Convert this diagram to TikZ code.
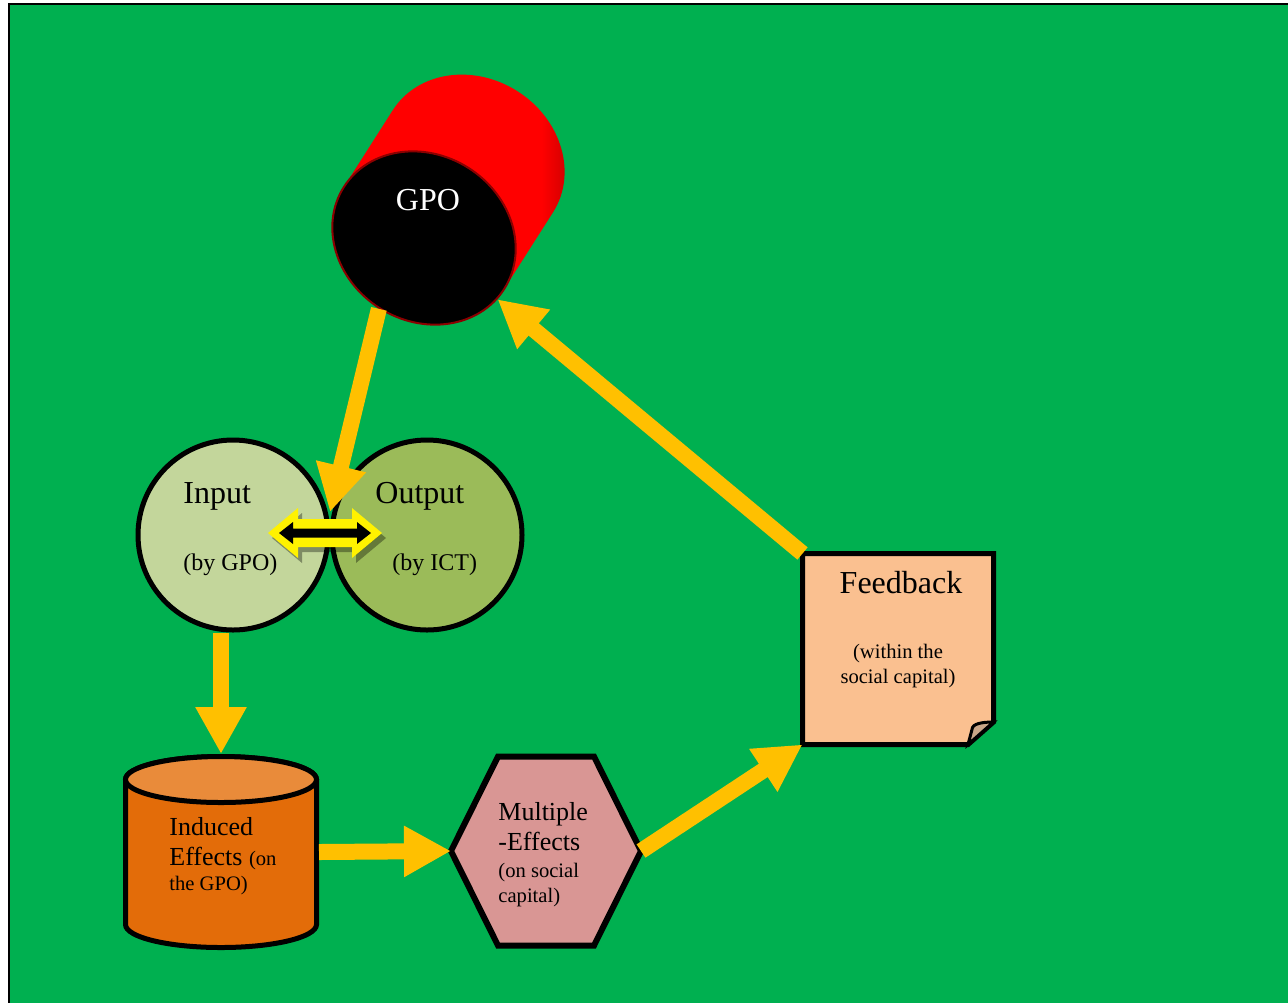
\documentclass[tikz,border=0pt]{standalone}
\usepackage{fontspec}
\setmainfont{Liberation Serif}
\usetikzlibrary{arrows.meta,shapes.geometric,calc}

\definecolor{bggreen}{HTML}{00B050}
\definecolor{gold}{HTML}{FFC000}
\definecolor{infill}{HTML}{C3D69B}
\definecolor{outfill}{HTML}{9BBB59}
\definecolor{indbody}{HTML}{E36C09}
\definecolor{indtop}{HTML}{E98B3A}
\definecolor{hexfill}{HTML}{D99694}
\definecolor{fbfill}{HTML}{FAC090}
\definecolor{rim}{HTML}{8B0000}
\pgfdeclarehorizontalshading{tube}{100bp}{color(0bp)=(red!65!black); color(25bp)=(red!65!black);
    color(33bp)=(red); color(68bp)=(red); color(75bp)=(red!75!black); color(100bp)=(red!75!black)}

\begin{document}
\begin{tikzpicture}[x=0.5pt, y=0.5pt]
        \tikzstyle{io}=[circle, draw=black, line width=2.5pt, minimum size=95pt, inner sep=0pt]
        \tikzstyle{box}=[rectangle, inner sep=0pt, outer sep=1.25pt]
        \tikzstyle{flow}=[draw=gold, line width=8pt, -{Triangle[length=23.5pt, width=24pt]}]
        \tikzstyle{title}=[font=\fontsize{16}{19}\selectfont, inner sep=0pt]
        \tikzstyle{sub}=[font=\fontsize{12}{14}\selectfont, inner sep=0pt]
        \tikzstyle{mid}=[font=\fontsize{13}{15}\selectfont, inner sep=0pt, align=left]
        \tikzstyle{note}=[font=\fontsize{10.3}{12.5}\selectfont, inner sep=0pt]

        % Frame
        \useasboundingbox (0,0) rectangle (1288,-1002);
        \clip (0,0) rectangle (1288,-1002);
        \draw[line width=1pt, fill=bggreen] (9,-4) rectangle (1310,-1020);

        % GPO cylinder (tilted)
        \coordinate (gc) at (424,-238);
        \begin{scope}[shift={(gc)}, rotate=-32.5]
            \shade[shading=tube]
                (-95,0) -- (-95,91) arc[start angle=180, end angle=0, x radius=95, y radius=83]
                -- (95,0) arc[start angle=0, end angle=-180, x radius=95, y radius=83] -- cycle;
        \end{scope}
        \node[ellipse, rotate=-32.5, minimum width=95pt, minimum height=83pt, inner sep=0pt,
              fill=black, draw=rim, line width=1pt] (gpo) at (gc) {};
        \node[title, text=white, anchor=base] (gpo-txt) at (428,-210) {GPO};

        % Input / Output
        \node[io, fill=infill] (in) at (233,-535) {};
        \node[io, fill=outfill] (out) at (427,-535) {};
        \node[title, anchor=base west] (in-txt) at (183,-503) {Input};
        \node[sub, anchor=base west] (in-sub) at (183,-570) {(by GPO)};
        \node[title, anchor=base west] (out-txt) at (375,-503) {Output};
        \node[sub, anchor=base west] (out-sub) at (392,-570) {(by ICT)};

        % Exchange arrow between the circles
        \coordinate (swap) at (325,-533);
        \begin{scope}[shift={(swap)}]
            \fill[black, opacity=.35] (-53,-5) -- (-23,20) -- (-23,9) -- (31,9) -- (31,20) -- (61,-5)
                -- (31,-30) -- (31,-19) -- (-23,-19) -- (-23,-30) -- cycle;
            \fill[yellow] (-57,0) -- (-27,25) -- (-27,14) -- (27,14) -- (27,25) -- (57,0)
                -- (27,-25) -- (27,-14) -- (-27,-14) -- (-27,-25) -- cycle;
            \fill[black] (-46,0) -- (-32,11) -- (-32,4.5) -- (32,4.5) -- (32,11) -- (46,0)
                -- (32,-11) -- (32,-4.5) -- (-32,-4.5) -- (-32,-11) -- cycle;
        \end{scope}
        \coordinate (meet) at (330,-512);

        % Induced effects
        \node[box, minimum width=95.5pt, minimum height=95.5pt] (ind) at (221,-852) {};
        \draw[line width=2.5pt, fill=indbody]
            ($(ind)+(-95.5,72.5)$) -- ($(ind)+(-95.5,-72.5)$)
            arc[start angle=180, end angle=360, x radius=95.5, y radius=23]
            -- ($(ind)+(95.5,72.5)$)
            arc[start angle=0, end angle=180, x radius=95.5, y radius=23] -- cycle;
        \draw[line width=2.5pt, fill=indtop] ($(ind)+(0,72.5)$) ellipse[x radius=95.5, y radius=23];
        \node[mid, anchor=north west] (ind-txt) at (169,-817)
            {Induced\\Effects {\fontsize{10.3}{12.5}\selectfont(on}\\[-2.5pt]{\fontsize{10.3}{12.5}\selectfont the GPO)}};

        % Multiple effects
        \node[box, outer sep=0pt, minimum width=95pt, minimum height=94.5pt] (mult) at (546,-851) {};
        \draw[line width=3pt, fill=hexfill] (mult.west) -- ([xshift=23.5pt]mult.north west)
            -- ([xshift=-23.5pt]mult.north east) -- (mult.east)
            -- ([xshift=-23.5pt]mult.south east) -- ([xshift=23.5pt]mult.south west) -- cycle;
        \node[mid, anchor=north west] (mult-txt) at (498,-802)
            {Multiple\\-Effects\\[-1.5pt]{\fontsize{10.3}{12.5}\selectfont(on social}\\[-2.5pt]{\fontsize{10.3}{12.5}\selectfont capital)}};

        % Feedback
        \node[box, outer sep=0pt, minimum size=95.5pt] (fb) at (898,-649) {};
        \draw[line width=2.5pt, fill=fbfill] (fb.north west) -- (fb.north east)
            -- ([yshift=11.25pt]fb.south east) -- ([xshift=-12.75pt]fb.south east)
            -- (fb.south west) -- cycle;
        \draw[line width=1.5pt, fill=fbfill!60!gray] ([xshift=-12.75pt]fb.south east) -- ++(4.5,17)
            .. controls +(2,5) and +(-6,0) .. ([yshift=11.25pt]fb.south east) -- cycle;
        \node[title, anchor=base] (fb-txt) at (901,-593) {Feedback};
        \node[note, align=center, anchor=north] (fb-sub) at (898,-644) {(within the\\social capital)};

        % Flow arrows
        \draw[flow] (gpo.south) -- (meet);
        \draw[flow] (in.south -| ind.north) -- (ind.north);
        \draw[flow] (ind.east) -- (mult.west);
        \draw[flow] (mult.east) -- (fb.south west);
        \draw[flow] (fb.north west) -- (gpo);
\end{tikzpicture}
\end{document}
